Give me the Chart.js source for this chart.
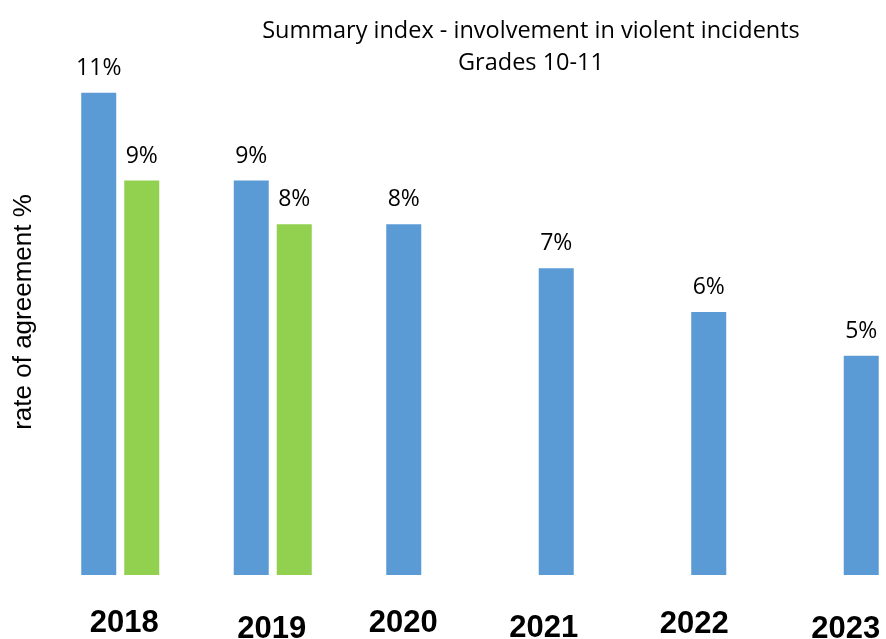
<!DOCTYPE html>
<html>
<head>
<meta charset="utf-8">
<script src="https://cdn.jsdelivr.net/npm/chart.js@4/dist/chart.umd.min.js"></script>
<style>
  html, body { margin: 0; padding: 0; background: #fff; overflow: hidden; }
  #wrap { width: 886px; height: 639px; overflow: hidden; }
</style>
</head>
<body>
<div id="wrap"><canvas id="chart" width="1062" height="639"></canvas></div>
<script>
"use strict";

const YEARS = ["2018", "2019", "2020", "2021", "2022", "2023"];
const SERIES_A = [11, 9, 8, 7, 6, 5];
const SERIES_B = [9, 8, null, null, null, null];
const TITLE_LINES = ["Summary index - involvement in violent incidents", "Grades 10-11"];
const Y_TITLE = "rate of agreement %";

const BLUE = "#5b9bd5";
const GREEN = "#92d050";
const LABEL_FONT = "23px 'Open Sans'";
const YEAR_FONT = "bold 31px 'Liberation Sans', Arial";

// the year captions were placed by hand, so each one is nudged off its category centre
const YEAR_SHIFT_X = [4, -1, -22, -34, -36, -37];
const YEAR_SHIFT_Y = [-2, 4, -2, 3, -1, 4];

// two-line heading drawn above the plot, centred on the canvas
const headingPlugin = {
  id: "heading",
  afterDraw(chart) {
    const ctx = chart.ctx;
    ctx.save();
    ctx.font = "23.5px 'Open Sans'";
    ctx.fillStyle = "#000";
    ctx.textAlign = "center";
    ctx.textBaseline = "alphabetic";
    TITLE_LINES.forEach((line, i) => ctx.fillText(line, chart.width / 2, 38 + i * 32));
    ctx.restore();
  },
};

// percentage labels above each bar
const valueLabels = {
  id: "valueLabels",
  afterDatasetsDraw(chart) {
    const ctx = chart.ctx;
    ctx.save();
    ctx.font = LABEL_FONT;
    ctx.fillStyle = "#000";
    ctx.textAlign = "center";
    ctx.textBaseline = "alphabetic";
    chart.data.datasets.forEach((ds, di) => {
      chart.getDatasetMeta(di).data.forEach((bar, i) => {
        const v = ds.data[i];
        if (v == null) return;
        ctx.fillText(v + "%", bar.x, bar.y - 18);
      });
    });
    ctx.restore();
  },
};

// year captions under the categories
const yearLabels = {
  id: "yearLabels",
  afterDraw(chart) {
    const ctx = chart.ctx;
    const xs = chart.scales.x;
    const base = chart.chartArea.bottom + 50;
    ctx.save();
    ctx.font = YEAR_FONT;
    ctx.fillStyle = "#000";
    ctx.textAlign = "center";
    ctx.textBaseline = "middle";
    chart.data.labels.forEach((lbl, i) => {
      ctx.fillText(lbl, xs.getPixelForValue(i) + YEAR_SHIFT_X[i], base + YEAR_SHIFT_Y[i]);
    });
    ctx.restore();
  },
};

new Chart(document.getElementById("chart"), {
  type: "bar",
  data: {
    labels: YEARS,
    datasets: [
      { label: "A", data: SERIES_A, backgroundColor: BLUE },
      { label: "B", data: SERIES_B, backgroundColor: GREEN },
    ],
  },
  options: {
    responsive: false,
    animation: false,
    events: [],
    categoryPercentage: 0.564,
    barPercentage: 0.814,
    layout: { padding: { top: 49, right: 103, bottom: 0, left: 0 } },
    plugins: {
      legend: { display: false },
      title: { display: false },
      tooltip: { enabled: false },
    },
    scales: {
      x: {
        grid: { display: false, drawTicks: false },
        border: { display: false },
        ticks: { display: false },
        afterFit(scale) { scale.height = 64; },
      },
      y: {
        min: 0,
        max: 12,
        grid: { display: false, drawTicks: false },
        border: { display: false },
        ticks: { display: false },
        title: {
          display: true,
          text: Y_TITLE,
          color: "#000",
          padding: { top: 8, bottom: 0 },
          font: { family: "'Liberation Sans', Arial", size: 26, lineHeight: 1.2 },
        },
        afterFit(scale) { scale.width = 44; },
      },
    },
  },
  plugins: [headingPlugin, valueLabels, yearLabels],
});
</script>
</body>
</html>
